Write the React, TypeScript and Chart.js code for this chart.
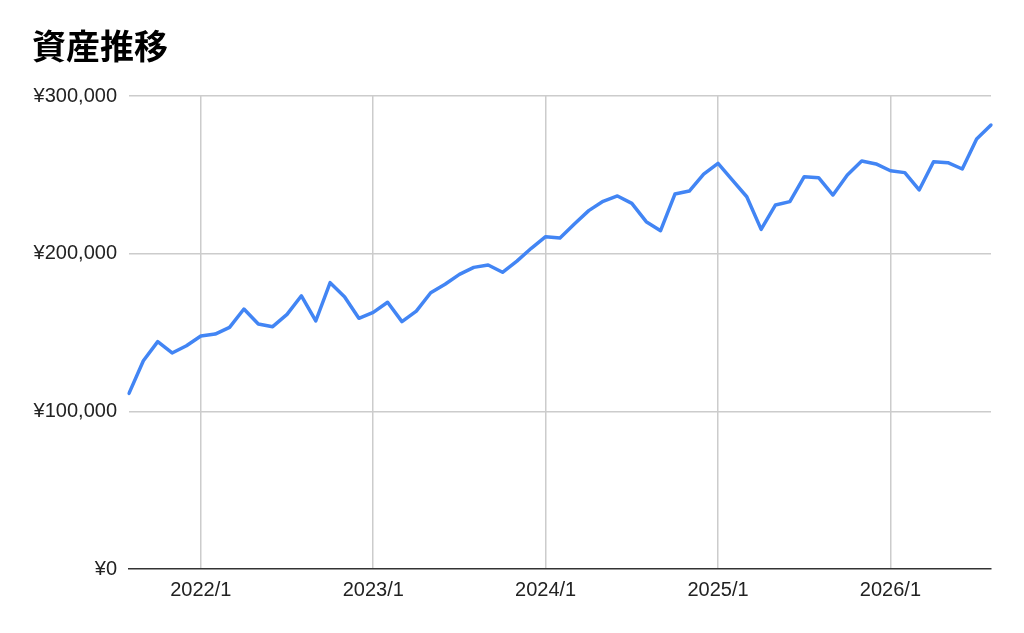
import React, { useEffect, useRef } from "react";
import { Chart, registerables } from "chart.js";

Chart.register(...registerables);

const TITLE = "資産推移";

const MONTH_LABELS: string[] = [
  "2021/8", "2021/9", "2021/10", "2021/11", "2021/12",
  "2022/1", "2022/2", "2022/3", "2022/4", "2022/5", "2022/6", "2022/7", "2022/8", "2022/9", "2022/10", "2022/11", "2022/12",
  "2023/1", "2023/2", "2023/3", "2023/4", "2023/5", "2023/6", "2023/7", "2023/8", "2023/9", "2023/10", "2023/11", "2023/12",
  "2024/1", "2024/2", "2024/3", "2024/4", "2024/5", "2024/6", "2024/7", "2024/8", "2024/9", "2024/10", "2024/11", "2024/12",
  "2025/1", "2025/2", "2025/3", "2025/4", "2025/5", "2025/6", "2025/7", "2025/8", "2025/9", "2025/10", "2025/11", "2025/12",
  "2026/1", "2026/2", "2026/3", "2026/4", "2026/5", "2026/6", "2026/7", "2026/8",
];

const ASSET_VALUES: number[] = [
  111400, 132100, 144200, 137000, 141600,
  147800, 149000, 153300, 164900, 155400, 153700, 161500, 173300, 157300, 181600, 172700, 159000,
  162800, 169200, 156900, 163600, 175200, 180600, 186900, 191300, 192800, 188200, 195300, 203400,
  210800, 209900, 218800, 227300, 233200, 236600, 231900, 220300, 214600, 237800, 239700, 250500,
  257300, 246700, 236100, 215400, 230900, 233000, 248800, 248200, 237200, 249900, 258800, 256900,
  252600, 251400, 240400, 258300, 257700, 253700, 272700, 281600,
];

const Y_MIN = 0;
const Y_MAX = 300000;
const Y_STEP = 100000;

const isYearStart = (label: any) => typeof label === "string" && label.endsWith("/1");

export default function App() {
  const canvasRef = useRef<HTMLCanvasElement | null>(null);

  useEffect(() => {
    const canvas = canvasRef.current;
    if (!canvas) return;
    const tickFont = { family: "'Liberation Sans', Arial, sans-serif", size: 20 };
    const chart = new Chart(canvas, {
      type: "line",
      data: {
        labels: MONTH_LABELS,
        datasets: [
          {
            label: TITLE,
            data: ASSET_VALUES,
            borderColor: "#4285F4",
            backgroundColor: "#4285F4",
            borderWidth: 3.5,
            pointRadius: 0,
            pointHoverRadius: 0,
            tension: 0,
            borderJoinStyle: "round",
            borderCapStyle: "round",
            fill: false,
          },
        ],
      },
      options: {
        responsive: false,
        animation: false,
        layout: { padding: { left: 32, right: 33, top: 0, bottom: 0 } },
        plugins: {
          legend: { display: false },
          tooltip: { enabled: false },
          title: {
            display: true,
            text: TITLE,
            align: "start",
            color: "#000",
            font: { family: "'Noto Sans CJK JP', sans-serif", size: 34, weight: "bold", lineHeight: 1 },
            padding: { top: 29, bottom: 33 },
          },
        },
        scales: {
          x: {
            type: "category",
            offset: false,
            grid: {
              display: true,
              drawOnChartArea: true,
              drawTicks: false,
              lineWidth: 1.5,
              color: (ctx: any) => {
                const t = ctx.tick;
                if (!t) return "rgba(0,0,0,0)";
                const lbl = MONTH_LABELS[t.value];
                return isYearStart(lbl) && t.value !== 0 ? "#cccccc" : "rgba(0,0,0,0)";
              },
            },
            border: { display: true, color: "#333333", width: 1.5 },
            ticks: {
              autoSkip: false,
              maxRotation: 0,
              minRotation: 0,
              padding: 9,
              color: "#222",
              font: tickFont,
              callback: (_v: any, idx: number) => {
                const lbl = MONTH_LABELS[idx];
                return isYearStart(lbl) ? lbl : "";
              },
            },
            afterFit: (scale: any) => {
              scale.height = 64;
            },
          },
          y: {
            min: Y_MIN,
            max: Y_MAX,
            border: { display: false },
            grid: {
              drawTicks: false,
              lineWidth: 1.5,
              color: (ctx: any) => (ctx.tick && ctx.tick.value === 0 ? "rgba(0,0,0,0)" : "#cccccc"),
            },
            ticks: {
              stepSize: Y_STEP,
              padding: 12,
              color: "#222",
              font: tickFont,
              callback: (v: any) => "¥" + Number(v).toLocaleString("en-US"),
            },
            afterFit: (scale: any) => {
              scale.width = 97;
            },
          },
        },
      },
    } as any);
    return () => chart.destroy();
  }, []);

  return (
    <div style={{ position: "fixed", left: 0, top: 0, width: 1024, height: 633, background: "#fff" }}>
      <canvas ref={canvasRef} width={1024} height={633} style={{ display: "block" }} />
    </div>
  );
}
